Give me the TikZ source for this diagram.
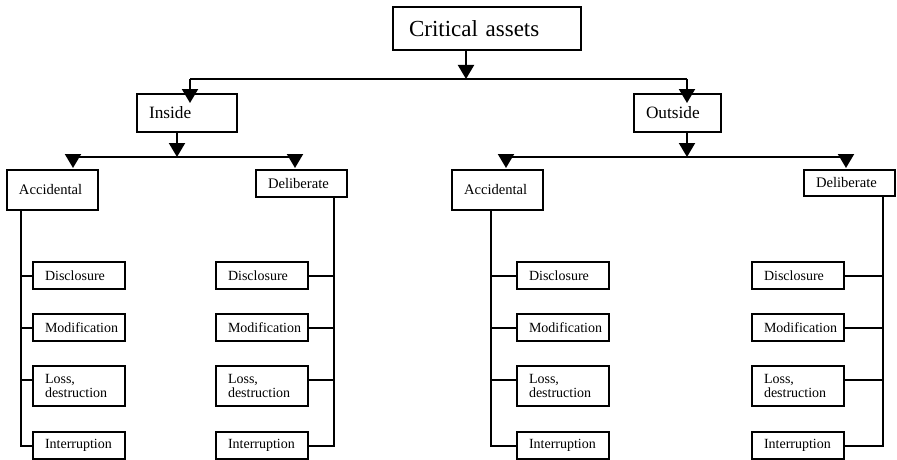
\documentclass[tikz,border=0pt]{standalone}
\usepackage{fontspec}
\setmainfont{Liberation Serif}
\usetikzlibrary{arrows.meta,calc}
\begin{document}
\begin{tikzpicture}[x=1pt,y=-1pt,
  box/.style={draw,line width=2pt,rectangle,anchor=north west,inner ysep=0pt,
    inner xsep=12pt,align=left,outer sep=0pt},
  topbox/.style={box,font=\fontsize{23}{27}\selectfont,inner xsep=16pt,
    text width=156pt,minimum height=43pt},
  midbox/.style={box,font=\fontsize{17.3}{20}\selectfont,minimum height=38pt},
  lvbox/.style={box,font=\fontsize{14.6}{16}\selectfont},
  leaf/.style={box,font=\fontsize{14}{14}\selectfont,text width=68pt,minimum height=27pt},
  tall/.style={minimum height=40pt},
  link/.style={line width=2pt},
  arr/.style={link,-{Triangle[length=14pt,width=16pt]}}]
\useasboundingbox (0,0) rectangle (897,460);

% root and first level
\node[topbox] (ca) at (393,7) {Critical assets};
\node[midbox,text width=76pt] (ins) at (137,94) {Inside};
\node[midbox,text width=63pt] (out) at (634,94) {Outside};

% second level
\node[lvbox,text width=67pt,minimum height=40pt] (iA) at (7,170) {Accidental};
\node[lvbox,text width=67pt,minimum height=27pt] (iD) at (256,170) {Deliberate};
\node[lvbox,text width=67pt,minimum height=40pt] (oA) at (452,170) {Accidental};
\node[lvbox,text width=67pt,minimum height=26pt] (oD) at (804,170) {Deliberate};

% leaves
\foreach \p/\x in {iA/33,iD/216,oA/517,oD/752}{
  \node[leaf] (\p1) at (\x,262) {Disclosure};
  \node[leaf] (\p2) at (\x,314) {Modification};
  \node[leaf,tall] (\p3) at (\x,366) {Loss,\\destruction};
  \node[leaf] (\p4) at (\x,432) {Interruption};
  % branch points on the sides of the leaves
  \coordinate (\p1w) at (\p1.west);  \coordinate (\p1e) at (\p1.east);
  \coordinate (\p2w) at (\p2.west);  \coordinate (\p2e) at (\p2.east);
  \coordinate (\p3w) at ($(\p3.north west)!0.35!(\p3.south west)$);
  \coordinate (\p3e) at ($(\p3.north east)!0.35!(\p3.south east)$);
  \coordinate (\p4w) at (\p4.west);  \coordinate (\p4e) at (\p4.east);
}

% junction points
\coordinate (j0) at (466,79);
\coordinate (jL) at (190,79);
\coordinate (jR) at (687,79);
\coordinate (k0) at (177,157);
\coordinate (kL) at (73,157);
\coordinate (kR) at (295,157);
\coordinate (m0) at (687,157);
\coordinate (mL) at (506,157);
\coordinate (mR) at (846,157);
\coordinate (tiA) at (21,445);
\coordinate (tiD) at (334,445);
\coordinate (toA) at (491,445);
\coordinate (toD) at (883,445);

% root to first level
\draw[arr] (ca.south -| j0) -- (j0);
\draw[link] (jL) -- (jR);
\draw[arr,shorten >=-9pt] (jL) -- (jL |- ins.north);
\draw[arr,shorten >=-9pt] (jR) -- (jR |- out.north);

% first level to second level
\draw[arr] (ins.south -| k0) -- (k0);
\draw[link] (kL) -- (kR);
\draw[arr,shorten >=2pt] (kL) -- (kL |- iA.north);
\draw[arr,shorten >=2pt] (kR) -- (kR |- iD.north);
\draw[arr] (out.south -| m0) -- (m0);
\draw[link] (mL) -- (mR);
\draw[arr,shorten >=2pt] (mL) -- (mL |- oA.north);
\draw[arr,shorten >=2pt] (mR) -- (mR |- oD.north);

% trunks and branches to the leaves
\draw[link] (iA.south -| tiA) -- (tiA |- iA4w) -- (iA4w);
\draw[link] (iD.south -| tiD) -- (tiD |- iD4e) -- (iD4e);
\draw[link] (oA.south -| toA) -- (toA |- oA4w) -- (oA4w);
\draw[link] (oD.south -| toD) -- (toD |- oD4e) -- (oD4e);
\foreach \i in {1,2,3}{
  \draw[link] (tiA |- iA\i w) -- (iA\i w);
  \draw[link] (tiD |- iD\i e) -- (iD\i e);
  \draw[link] (toA |- oA\i w) -- (oA\i w);
  \draw[link] (toD |- oD\i e) -- (oD\i e);
}
\end{tikzpicture}
\end{document}
